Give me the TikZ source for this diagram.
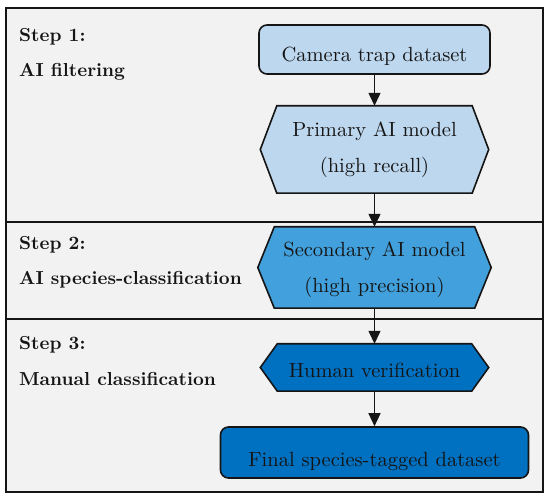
\documentclass[tikz,border=0pt]{standalone}
\usepackage{fontspec}
\setmainfont{lmroman10-regular.otf}[BoldFont=lmroman10-bold.otf]
\usetikzlibrary{arrows.meta,backgrounds}
\definecolor{bandgray}{HTML}{F2F2F2}
\definecolor{lightblue}{HTML}{BDD7EE}
\definecolor{midblue}{HTML}{42A0DC}
\definecolor{darkblue}{HTML}{0070C0}
\definecolor{inkline}{HTML}{151515}
\newcommand\hexpath[2]{(#1.west) -- ([xshift=#2]#1.north west) -- ([xshift=-#2]#1.north east) -- (#1.east) -- ([xshift=-#2]#1.south east) -- ([xshift=#2]#1.south west) -- cycle}
\tikzset{
  boxtext/.style={font=\fontsize{20.5}{36}\selectfont, text=inkline, align=center, inner sep=0pt},
  roundbox/.style={boxtext, draw=inkline, line width=1.6pt, rounded corners=8pt, text depth=0pt},
  hexnode/.style={boxtext},
  hexline/.style={draw=inkline, line width=1.6pt, line join=miter},
  steplabel/.style={font=\fontsize{18.8}{24}\selectfont\bfseries, text=inkline, anchor=base west, inner sep=0pt},
  flowarrow/.style={draw=inkline, line width=1.3pt, -{Triangle[length=13pt,width=12pt]}},
  frameline/.style={draw=inkline, line width=2pt}
}
\begin{document}
\begin{tikzpicture}[x=1pt,y=-1pt]
\useasboundingbox (0,0) rectangle (550,500);
\begin{pgfonlayer}{background}
  \fill[bandgray] (6,8) rectangle (543,492);
  \draw[frameline] (6,222) -- (543,222);
  \draw[frameline] (6,319) -- (543,319);
  \draw[frameline] (6,8) rectangle (543,492);
\end{pgfonlayer}
% boxes
\node[roundbox, fill=lightblue, minimum width=231pt, minimum height=49pt, text height=25pt] (cam) at (374.5,49.5) {Camera trap dataset};
\node[hexnode, minimum width=228pt, minimum height=87pt] (prim) at (374.5,149.5) {Primary AI model\\(high recall)};
\node[hexnode, minimum width=233pt, minimum height=81pt, yshift=-2pt] (sec) at (374.5,267.5) {Secondary AI model\\(high precision)};
\node[hexnode, minimum width=228pt, minimum height=47pt, text height=21pt, text depth=0pt] (hum) at (374.5,367.5) {Human verification};
\node[roundbox, fill=darkblue, minimum width=308pt, minimum height=51pt, text height=29pt] (fin) at (374.5,452.5) {Final species-tagged dataset};
\begin{pgfonlayer}{background}
  \path[hexline, fill=lightblue] \hexpath{prim}{16.5pt};
  \path[hexline, fill=midblue] ([yshift=2pt]sec.west) -- ([xshift=16.5pt,yshift=2pt]sec.north west) -- ([xshift=-16.5pt,yshift=2pt]sec.north east) -- ([yshift=2pt]sec.east) -- ([xshift=-16.5pt,yshift=2pt]sec.south east) -- ([xshift=16.5pt,yshift=2pt]sec.south west) -- cycle;
  \path[hexline, fill=darkblue] \hexpath{hum}{17pt};
\end{pgfonlayer}
% step labels
\node[steplabel] (s1a) at (19,42) {Step 1:};
\node[steplabel] (s1b) at (19,77) {AI filtering};
\node[steplabel] (s2a) at (19,250) {Step 2:};
\node[steplabel] (s2b) at (19,285) {AI species-classification};
\node[steplabel] (s3a) at (19,350) {Step 3:};
\node[steplabel] (s3b) at (19,386) {Manual classification};
% arrows
\draw[flowarrow] (cam.south) -- (prim.north);
\draw[flowarrow] (prim.south) -- ([yshift=2pt]sec.north);
\draw[flowarrow] ([yshift=2pt]sec.south) -- (hum.north);
\draw[flowarrow] (hum.south) -- (fin.north);
\end{tikzpicture}
\end{document}
